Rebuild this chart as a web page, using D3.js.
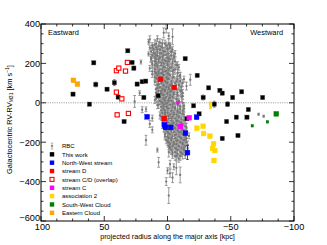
<!DOCTYPE html>
<html>
<head>
<meta charset="utf-8">
<script src="https://cdn.jsdelivr.net/npm/d3@7"></script>
<style>
  body { margin: 0; background: #fff; }
  svg { display: block; }
  text { font-family: "Liberation Sans", Arial, sans-serif; }
</style>
</head>
<body>
<div id="chart"></div>
<script>
// [projected radius kpc, RV km/s, error]
const rbcPoints = [
  [1,375,20],[3,355,25],[-1,340,15],[-4,335,40],[8,325,15],[14,322,18],[15,310,12],[6,305,20],[2,300,18],[10,295,25],
  [-2,290,15],[5,285,20],[12,280,15],[0,275,22],[8,270,18],[3,262,15],[-3,258,20],[11,255,20],[6,250,25],[15,248,10],
  [1,245,18],[9,240,15],[-5,238,20],[4,232,22],[13,228,18],[-1,225,15],[7,220,20],[2,215,12],[10,210,18],[-4,208,20],
  [21,207,10],[5,203,15],[0,198,25],[12,195,18],[-7,192,15],[8,188,20],[3,183,12],[-2,178,18],[14,175,15],[6,170,20],
  [-5,167,15],[1,162,18],[10,158,20],[4,155,12],[-8,152,18],[7,150,15],[-1,147,20],[12,144,15],[3,140,18],[-10,134,20],
  [6,132,15],[-4,128,18],[9,125,20],[0,121,15],[-18,117,28],[-13,120,15],[4,115,18],[-7,110,20],[10,106,15],[1,102,18],
  [-3,97,12],[7,93,20],[-9,90,15],[3,86,18],[-15,85,20],[-1,80,15],[8,76,20],[-6,72,18],[2,68,15],[-11,64,22],
  [5,60,18],[-2,56,15],[22,49,12],[-8,52,18],[9,50,20],[0,46,15],[-5,42,18],[4,38,20],[-12,34,15],[7,30,18],
  [-2,26,12],[2,22,20],[-7,18,15],[10,14,18],[-1,10,20],[26,7,30],[5,5,15],[-9,2,18],[1,-3,15],[-4,-8,20],
  [8,-12,18],[-13,-15,15],[3,-18,20],[-6,-22,18],[0,-27,15],[20,-35,15],[17,-33,12],[-10,-32,20],[5,-38,18],[-3,-42,15],
  [-8,-47,20],[2,-52,18],[-12,-55,15],[-5,-60,20],[6,-64,18],[-1,-68,15],[12,-78,15],[-9,-72,18],[-3,-78,20],[3,-84,15],
  [-14,-88,18],[-7,-92,20],[0,-97,15],[14,-107,18],[-11,-102,18],[-4,-106,15],[4,-110,20],[-8,-116,18],[-1,-121,15],[-15,-124,20],
  [-6,-128,18],[12,-137,15],[2,-133,20],[-11,-140,15],[-3,-145,18],[-9,-150,20],[-1,-155,15],[-13,-158,18],[-6,-163,20],[-17,-168,15],
  [2,-170,18],[-10,-175,15],[-3,-180,20],[17,-190,25],[-14,-186,18],[-7,-192,15],[0,-198,20],[-12,-204,18],[-5,-210,15],[-16,-214,20],
  [-9,-220,18],[-2,-225,15],[-13,-230,20],[-7,-236,18],[8,-240,10],[-16,-244,15],[-4,-250,20],[-11,-256,18],[-14,-268,15],[-6,-272,20],
  [-9,-284,18],[7,-302,25],[-2,-312,20],[-5,-325,15],[-7,-330,35],[0,-345,15],[-2,-358,20],[-10,-366,40],[1,-400,20],[-1,-471,40],
  [-4,-380,25],[-72,-58,5],[-76,-68,5],
  [4,300,20],[9,300,15],[-1,300,25],[1,290,18],[7,290,22],[12,290,15],[-2,280,20],[4,280,25],[9,280,18],[14,280,12],
  [0,270,22],[6,270,18],[11,270,25],[-4,270,15],[2,260,20],[8,260,24],[-3,260,18],[13,260,15],[-1,250,22],[5,250,18],
  [10,250,20],[-6,250,15],[3,240,25],[8,240,18],[-3,240,22],[12,240,15],[0,230,20],[6,230,25],[-5,230,18],[10,230,20],
  [4,220,22],[-2,220,18],[9,220,25],[13,220,15],[1,210,20],[7,210,22],[-6,210,18],[-1,210,25],[3,200,20],[9,200,18],
  [-4,200,22],[12,200,15],[0,190,25],[5,190,20],[-8,190,18],[10,190,22],[2,180,20],[8,180,25],[-3,180,18],[-9,180,15],
  [-1,170,22],[4,170,20],[10,170,18],[-6,170,25],[2,160,20],[7,160,22],[-4,160,18],[12,160,15],[0,150,25],[5,150,20],
  [-8,150,18],[9,150,22],[-2,140,20],[3,140,25],[8,140,18],[-10,140,15],[1,130,22],[6,130,20],[-5,130,25],[10,130,18],
  [-1,120,20],[4,120,22],[-8,120,18],[8,120,25],[2,110,20],[-3,110,22],[7,110,18],[-10,110,15],[0,100,25],[5,100,20],
  [-6,100,22],[-12,100,18],[-2,90,20],[3,90,25],[8,90,18],[-9,90,22],[1,80,20],[-4,80,22],[6,80,18],[-11,80,25],
  [-1,70,20],[4,70,22],[-7,70,25],[9,70,18],[2,60,20],[-3,60,22],[7,60,18],[-10,60,25],[0,50,20],[-5,50,22],
  [5,50,25],[-12,50,18],[-2,40,20],[3,40,22],[-8,40,25],[8,40,18],[1,30,20],[-4,30,22],[6,30,18],[-11,30,25],
  [-1,20,20],[3,20,25],[-7,20,22],[9,20,18],[2,10,20],[-3,10,22],[-9,10,25],[6,10,18],[0,0,20],[-5,0,22],
  [4,0,25],[-12,0,18],[-2,-10,20],[3,-10,22],[-8,-10,25],[7,-10,18],[1,-20,20],[-4,-20,22],[-10,-20,25],[5,-20,18],
  [-1,-30,20],[-6,-30,22],[3,-30,25],[-13,-30,18],[-3,-40,20],[2,-40,22],[-8,-40,25],[-12,-40,18],[0,-50,20],[-5,-50,22],
  [4,-50,25],[-10,-50,18],[-2,-60,20],[-7,-60,22],[2,-60,25],[-13,-60,18],[-4,-70,20],[1,-70,22],[-9,-70,25],[5,-70,18],
  [-1,-80,20],[-6,-80,22],[-11,-80,25],[3,-80,18],[-3,-90,20],[-8,-90,22],[1,-90,25],[-13,-90,18],[-5,-100,20],[0,-100,22],
  [-10,-100,25],[4,-100,18],[-2,-110,20],[-7,-110,22],[-12,-110,25],[2,-110,18],[-4,-120,20],[0,-120,22],[-9,-120,25],[-14,-120,18],
  [-1,-130,20],[-6,-130,22],[-11,-130,25],[3,-130,18],[-3,-140,20],[-8,-140,22],[-13,-140,25],[1,-140,18],[-5,-150,20],[0,-150,22],
  [-10,-150,25],[-15,-150,18],[-2,-160,20],[-7,-160,22],[-12,-160,25],[2,-160,18],[-4,-170,20],[-9,-170,22],[0,-170,25],[-14,-170,18],
  [-6,-180,20],[-1,-180,22],[-11,-180,25],[-15,-180,18],[-3,-190,20],[-8,-190,22],[-13,-190,25],[1,-190,18],[-5,-200,20],[-10,-200,22],
  [-1,-200,25],[-15,-200,18],[-7,-210,20],[-2,-210,22],[-12,-210,25],[-4,-220,20],[-9,-220,22],[-14,-220,25],[-1,-220,18],[-6,-230,20],
  [-11,-230,22],[-2,-230,25],[-8,-240,20],[-3,-240,22],[-13,-240,25],[-6,-250,20],[-10,-250,22],[-1,-250,25],[-8,-260,20],[-4,-260,22],
  [-12,-260,25],[-7,-270,20],[-10,-270,22]
];
const thisWork = [
  [74.7,44,8],[61.7,-7,8],[58.3,203,8],[56.7,93,12],[47.8,69,8],[42,102,15],[39,29,8],[34.3,-95,8],[31.4,264,8],[28,205,8],
  [26.6,176,10],[24,95,8],[20,107,8],[17.2,110,8],[18.7,27,8],[7.4,36,10],[-14,224,8],[-15.3,-81,8],[-23.5,139,8],[-20.6,-15,8],
  [-25,-56,8],[-32.5,76,8],[-28.2,27,12],[-37,-7,15],[-41.4,63,8],[-43.3,49,8],[-46.7,-95,8],[-43.3,-181,10],[-47.5,-7,12],[-51.5,27,10],
  [-58.6,56,8],[-54.4,-73,8],[-55.7,-166,8],[-63.9,-34,8],[-62.8,-73,8],[-75.2,27,8]
];
const nwStream = [[16.1,-71,8],[2.4,-112,8],[1.6,-124,10],[-2.6,-125,8],[-14.2,-154,8],[-15.8,-253,35],[-23,-73,8]];
const streamD = [[5.5,119,8],[-5.3,78,8],[2.6,-80,8]];
const streamCD = [[40.4,163,8],[38.5,176,8],[33.2,161,8],[31.7,205,8],[40.4,54,8],[36.1,20,8],[39.8,-61,8],[30.9,-54,8]];
const streamC = [[-10.3,-120,8],[-17.2,-76,8]];
const streamCSmall = [[-8.2,0,4]];
const assoc2 = [[-23.2,-129,8],[-28.2,-119,8],[-28.5,-156,8],[-33.5,-169,8],[-36.4,-208,10],[-35.6,-232,8],[-37.5,-242,10],[-36.7,-293,8]];
const assoc2Small = [[-33.8,-5,10],[-34,-24,6]];
const swCloud = [[-86,-56,6]];
const swCloudSmall = [[-67,-117,4],[-79,-97,4]];
const easternCloud = [[74.4,114,8],[71.2,95,8]];

const xTicks = [100, 50, 0, -50, -100];
const yTicks = [-600, -400, -200, 0, 200, 400];
const legendLabels = ['RBC', 'This work', 'North-West stream', 'stream D', 'stream C/D (overlap)',
  'stream C', 'association 2', 'South-West Cloud', 'Eastern Cloud'];

const W = 327, H = 245;
const margin = { top: 24, right: 33, bottom: 24, left: 41 };
const width = W - margin.left - margin.right;
const height = H - margin.top - margin.bottom;

const svg = d3.select('#chart').append('svg').attr('width', W).attr('height', H);
const g = svg.append('g').attr('transform', `translate(${margin.left},${margin.top})`);

const x = d3.scaleLinear().domain([100, -100]).range([0, width]);
const y = d3.scaleLinear().domain([-600, 400]).range([height, 0]);

// zero line
g.append('line').attr('x1', 2).attr('x2', width - 2).attr('y1', y(0)).attr('y2', y(0))
  .attr('stroke', '#888').attr('stroke-width', 0.9).attr('stroke-dasharray', '1,1.3');

function errorBars(data, color, cap, sw = 0.8) {
  const eg = g.append('g').attr('stroke', color).attr('stroke-width', sw);
  eg.selectAll('line.v').data(data).join('line').attr('class', 'v')
    .attr('x1', d => x(d[0])).attr('x2', d => x(d[0]))
    .attr('y1', d => y(d[1] - d[2])).attr('y2', d => y(d[1] + d[2]));
  eg.selectAll('line.t').data(data).join('line').attr('class', 't')
    .attr('x1', d => x(d[0]) - cap).attr('x2', d => x(d[0]) + cap)
    .attr('y1', d => y(d[1] + d[2])).attr('y2', d => y(d[1] + d[2]));
  eg.selectAll('line.b').data(data).join('line').attr('class', 'b')
    .attr('x1', d => x(d[0]) - cap).attr('x2', d => x(d[0]) + cap)
    .attr('y1', d => y(d[1] - d[2])).attr('y2', d => y(d[1] - d[2]));
}

function squares(data, color, size, open) {
  errorBars(data, open ? color : (color === '#000' ? '#555' : color), 1.2);
  g.append('g').selectAll('rect').data(data).join('rect')
    .attr('x', d => x(d[0]) - size / 2).attr('y', d => y(d[1]) - size / 2)
    .attr('width', size).attr('height', size)
    .attr('fill', open ? '#fff' : color)
    .attr('stroke', open ? color : (color === '#000' ? '#666' : color))
    .attr('stroke-width', open ? 1.1 : 0.4);
}

// RBC
errorBars(rbcPoints, '#909090', 1.4, 0.9);
g.append('g').selectAll('circle').data(rbcPoints).join('circle')
  .attr('cx', d => x(d[0])).attr('cy', d => y(d[1])).attr('r', 1.15).attr('fill', '#777');

squares(thisWork, '#000', 4.3);
squares(streamCD, '#ff0000', 4.2, true);
squares(nwStream, '#0000ff', 4.8);
squares(streamD, '#ff0000', 4.8);
squares(streamC, '#ff00ff', 4.8);
squares(streamCSmall, '#ff00ff', 2.4);
squares(assoc2, '#ffd700', 4.8);
squares(assoc2Small, '#ffd700', 2.4);
squares(swCloud, '#008000', 4.8);
squares(swCloudSmall, '#008000', 2.4);
squares(easternCloud, '#ffa500', 4.8);

// frame
g.append('rect').attr('width', width).attr('height', height)
  .attr('fill', 'none').attr('stroke', '#000').attr('stroke-width', 1);

// ticks (inward, all sides)
const xMinor = d3.range(100, -100.1, -12.5);
const yMinor = d3.range(-600, 400.1, 50);
const tk = g.append('g').attr('stroke', '#000').attr('stroke-width', 0.8);
xMinor.forEach(v => {
  const len = xTicks.includes(v) ? 5 : 2.5;
  tk.append('line').attr('x1', x(v)).attr('x2', x(v)).attr('y1', height).attr('y2', height - len);
  tk.append('line').attr('x1', x(v)).attr('x2', x(v)).attr('y1', 0).attr('y2', len);
});
yMinor.forEach(v => {
  const len = yTicks.includes(v) ? 5 : 2.5;
  tk.append('line').attr('y1', y(v)).attr('y2', y(v)).attr('x1', 0).attr('x2', len);
  tk.append('line').attr('y1', y(v)).attr('y2', y(v)).attr('x1', width).attr('x2', width - len);
});

const fmt = v => (v < 0 ? '\u2212' : '') + Math.abs(v);
g.selectAll('.xt').data(xTicks).join('text').attr('class', 'xt')
  .attr('x', d => x(d) + (d === 100 ? 1.5 : 0)).attr('y', height + 9).attr('text-anchor', 'middle')
  .attr('font-size', '9.2px').text(fmt);
g.selectAll('.yt').data(yTicks).join('text').attr('class', 'yt')
  .attr('x', -1).attr('y', d => y(d) + (d === -600 ? -0.5 : 3.3)).attr('text-anchor', 'end')
  .attr('font-size', '9.2px').text(fmt);

// axis titles
svg.append('text').attr('x', margin.left + width / 2).attr('y', 238.8).attr('text-anchor', 'middle')
  .attr('font-size', '7.2px').text('projected radius along the major axis [kpc]');
const yl = svg.append('text').attr('transform', `translate(11.5,${margin.top + height / 2 - 3}) rotate(-90)`)
  .attr('text-anchor', 'middle').attr('font-size', '7.4px');
yl.append('tspan').text('Galactocentric RV-RV');
yl.append('tspan').attr('font-size', '5px').attr('dy', 1.5).text('M31');
yl.append('tspan').attr('dy', -1.5).text(' [km s');
yl.append('tspan').attr('font-size', '5px').attr('dy', -3).text('\u22121');
yl.append('tspan').attr('dy', 3).text(']');

g.append('text').attr('x', 7).attr('y', 11).attr('font-size', '7.4px').text('Eastward');
g.append('text').attr('x', width - 11).attr('y', 11).attr('text-anchor', 'end').attr('font-size', '7.4px').text('Westward');

// legend
const legendColors = ['#888', '#000', '#0000ff', '#ff0000', '#ff0000', '#ff00ff', '#ffd700', '#008000', '#ffa500'];
const lg = svg.append('g').attr('transform', 'translate(52,146)');
legendLabels.forEach((label, i) => {
  const ly = i * 8.35;
  if (i === 0) {
    lg.append('line').attr('x1', 0).attr('x2', 0).attr('y1', ly - 3).attr('y2', ly + 3).attr('stroke', '#999').attr('stroke-width', 0.7);
    lg.append('line').attr('x1', -1.2).attr('x2', 1.2).attr('y1', ly - 3).attr('y2', ly - 3).attr('stroke', '#999').attr('stroke-width', 0.7);
    lg.append('line').attr('x1', -1.2).attr('x2', 1.2).attr('y1', ly + 3).attr('y2', ly + 3).attr('stroke', '#999').attr('stroke-width', 0.7);
    lg.append('circle').attr('cx', 0).attr('cy', ly).attr('r', 1.1).attr('fill', '#7a7a7a');
  } else if (i === 4) {
    lg.append('rect').attr('x', -2).attr('y', ly - 2).attr('width', 4).attr('height', 4)
      .attr('fill', '#fff').attr('stroke', '#ff0000').attr('stroke-width', 1.1);
  } else {
    lg.append('rect').attr('x', -2.2).attr('y', ly - 2.2).attr('width', 4.4).attr('height', 4.4)
      .attr('fill', legendColors[i]);
  }
  lg.append('text').attr('x', 10).attr('y', ly + 2.2).attr('font-size', '6px').text(label);
});
</script>
</body>
</html>
